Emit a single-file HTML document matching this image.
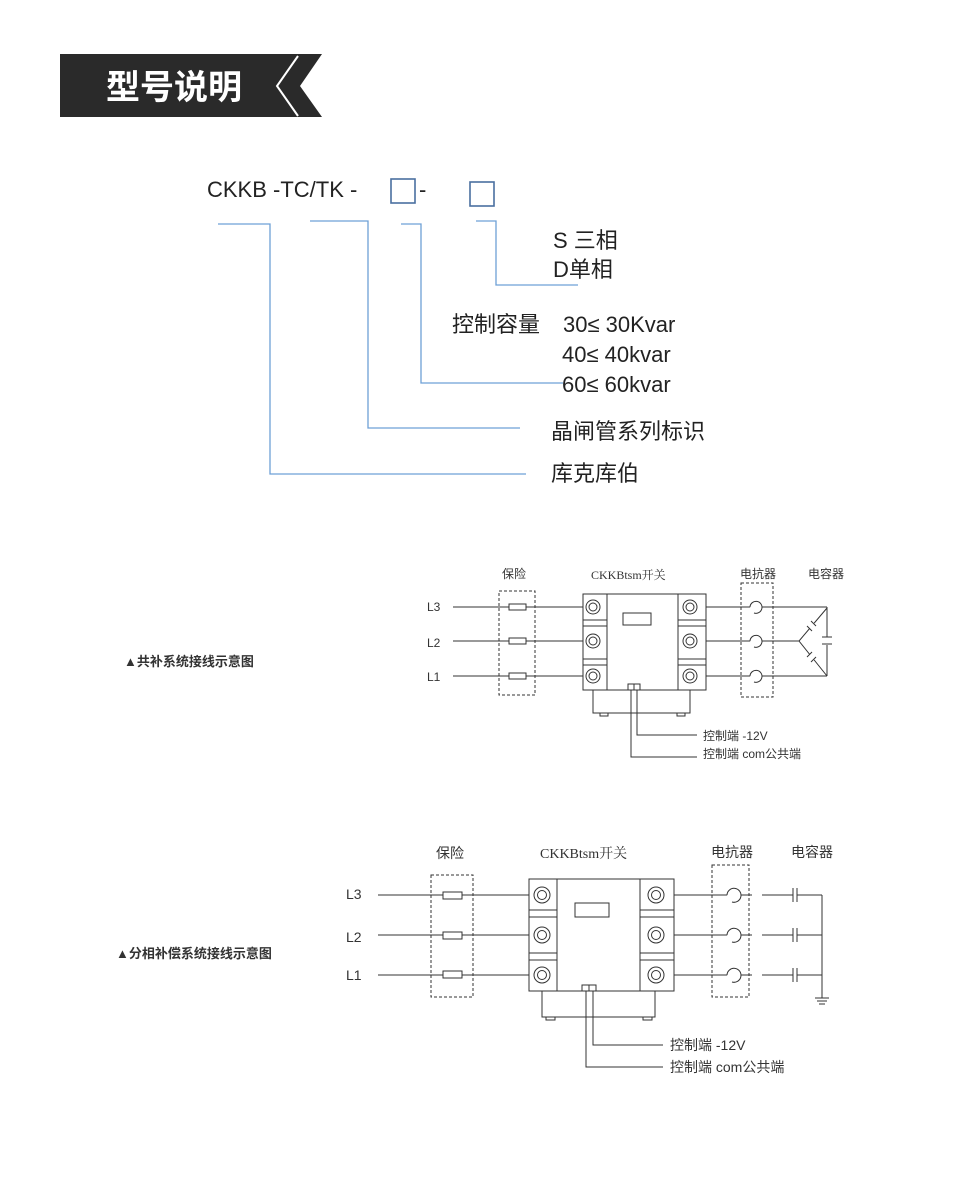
<!DOCTYPE html>
<html><head><meta charset="utf-8"><style>
html,body{margin:0;padding:0;background:#fff;}
svg{display:block}
.cn{font-family:"Liberation Sans","Noto Sans CJK SC",sans-serif;}
</style></head><body>
<svg width="977" height="1200" viewBox="0 0 977 1200" xmlns="http://www.w3.org/2000/svg" class="cn">
<!-- header -->
<polygon points="60,54 322,54 300,86 322,117 60,117" fill="#2a2a2a"/>
<polyline points="298,56 277,86 298,116" fill="none" stroke="#fff" stroke-width="2"/>
<text x="106" y="99" font-size="34" font-weight="bold" fill="#fff" font-family="'Noto Sans CJK SC',sans-serif">型号说明</text>

<!-- model code -->
<text x="207" y="197" font-size="22" fill="#222">CKKB -TC/TK -</text>
<rect x="391" y="179" width="24" height="24" fill="none" stroke="#4a6fa0" stroke-width="1.6"/>
<text x="419" y="197" font-size="22" fill="#222">-</text>
<rect x="470" y="182" width="24" height="24" fill="none" stroke="#4a6fa0" stroke-width="1.6"/>
<g fill="none" stroke="#6ea0d6" stroke-width="1.3">
<polyline points="218,224 270,224 270,474 526,474"/>
<polyline points="310,221 368,221 368,428 520,428"/>
<polyline points="401,224 421,224 421,383 563,383"/>
<polyline points="476,221 496,221 496,285 578,285"/>
</g>
<g font-size="22" fill="#222">
<text x="553" y="248">S 三相</text>
<text x="553" y="277">D单相</text>
<text x="452" y="332">控制容量</text>
<text x="563" y="332">30≤ 30Kvar</text>
<text x="562" y="362">40≤ 40kvar</text>
<text x="562" y="392">60≤ 60kvar</text>
<text x="551" y="439">晶闸管系列标识</text>
<text x="551" y="481">库克库伯</text>
</g>

<!-- diagram 1 -->
<text x="124" y="666" font-size="13" font-weight="bold" fill="#333">▲共补系统接线示意图</text>
<g font-size="12" fill="#333">
<text x="502" y="578">保险</text>
<text x="591" y="579" font-family="'Liberation Serif','Noto Serif CJK SC',serif">CKKBtsm开关</text>
<text x="740" y="578">电抗器</text>
<text x="808" y="578">电容器</text>
<text x="427" y="611">L3</text>
<text x="427" y="647">L2</text>
<text x="427" y="681">L1</text>
<text x="703" y="740">控制端 -12V</text>
<text x="703" y="758">控制端 com公共端</text>
</g>
<g fill="none" stroke="#333" stroke-width="1">
<line x1="453" y1="607" x2="585" y2="607"/>
<line x1="453" y1="641" x2="585" y2="641"/>
<line x1="453" y1="676" x2="585" y2="676"/>
<rect x="509" y="604" width="17" height="6" fill="#fff"/>
<rect x="509" y="638" width="17" height="6" fill="#fff"/>
<rect x="509" y="673" width="17" height="6" fill="#fff"/>
<rect x="499" y="591" width="36" height="104" stroke-dasharray="3,2"/>
<rect x="593" y="690" width="97" height="23"/>
<rect x="600" y="713" width="8" height="3"/><rect x="677" y="713" width="8" height="3"/>
<rect x="583" y="594" width="123" height="96" fill="#fff"/>
<line x1="607" y1="594" x2="607" y2="690"/><line x1="678" y1="594" x2="678" y2="690"/>
<line x1="583" y1="620" x2="607" y2="620"/><line x1="583" y1="626" x2="607" y2="626"/>
<line x1="583" y1="659" x2="607" y2="659"/><line x1="583" y1="665" x2="607" y2="665"/>
<line x1="678" y1="620" x2="706" y2="620"/><line x1="678" y1="626" x2="706" y2="626"/>
<line x1="678" y1="659" x2="706" y2="659"/><line x1="678" y1="665" x2="706" y2="665"/>
<rect x="623" y="613" width="28" height="12"/>
<rect x="628" y="684" width="6" height="6"/><rect x="634" y="684" width="6" height="6"/>
<polyline points="637,690 637,735 697,735"/>
<polyline points="631,690 631,757 697,757"/>
<line x1="706" y1="607" x2="827" y2="607"/>
<line x1="706" y1="641" x2="799" y2="641"/>
<line x1="706" y1="676" x2="827" y2="676"/>
<rect x="741" y="583" width="32" height="114" stroke-dasharray="3,2"/>
<line x1="827" y1="607" x2="827" y2="637"/><line x1="827" y1="645" x2="827" y2="676"/>
<line x1="822" y1="637" x2="832" y2="637"/><line x1="822" y1="644" x2="832" y2="644"/>
<polyline points="827,608 799,641 827,676"/>
</g>
<g fill="#fff" stroke="#333" stroke-width="1">
<circle cx="593" cy="607" r="7"/><circle cx="593" cy="641" r="7"/><circle cx="593" cy="676" r="7"/>
<circle cx="690" cy="607" r="7"/><circle cx="690" cy="641" r="7"/><circle cx="690" cy="676" r="7"/>
<circle cx="593" cy="607" r="4"/><circle cx="593" cy="641" r="4"/><circle cx="593" cy="676" r="4"/>
<circle cx="690" cy="607" r="4"/><circle cx="690" cy="641" r="4"/><circle cx="690" cy="676" r="4"/>
<path d="M750,607 A6,6 0 1,1 754,613"/><path d="M750,641 A6,6 0 1,1 754,647"/><path d="M750,676 A6,6 0 1,1 754,682"/>
</g>
<g stroke="#fff" stroke-width="4"><line x1="809" y1="628" x2="814" y2="623"/><line x1="809" y1="655" x2="814" y2="660"/></g>
<g stroke="#333" stroke-width="1"><line x1="807" y1="626" x2="812" y2="631"/><line x1="811" y1="621" x2="816" y2="626"/><line x1="807" y1="657" x2="812" y2="652"/><line x1="811" y1="662" x2="816" y2="657"/></g>

<!-- diagram 2 -->
<text x="116" y="958" font-size="13" font-weight="bold" fill="#333">▲分相补偿系统接线示意图</text>
<g font-size="14" fill="#333">
<text x="436" y="858">保险</text>
<text x="540" y="858" font-family="'Liberation Serif','Noto Serif CJK SC',serif">CKKBtsm开关</text>
<text x="711" y="857">电抗器</text>
<text x="791" y="857">电容器</text>
<text x="346" y="899">L3</text>
<text x="346" y="942">L2</text>
<text x="346" y="980">L1</text>
<text x="670" y="1050">控制端 -12V</text>
<text x="670" y="1072">控制端 com公共端</text>
</g>
<g fill="none" stroke="#333" stroke-width="1">
<line x1="378" y1="895" x2="532" y2="895"/>
<line x1="378" y1="935" x2="532" y2="935"/>
<line x1="378" y1="975" x2="532" y2="975"/>
<rect x="443" y="892" width="19" height="7" fill="#fff"/>
<rect x="443" y="932" width="19" height="7" fill="#fff"/>
<rect x="443" y="971" width="19" height="7" fill="#fff"/>
<rect x="431" y="875" width="42" height="122" stroke-dasharray="3,2"/>
<rect x="542" y="991" width="113" height="26"/>
<rect x="546" y="1017" width="9" height="3"/><rect x="643" y="1017" width="9" height="3"/>
<rect x="529" y="879" width="145" height="112" fill="#fff"/>
<line x1="557" y1="879" x2="557" y2="991"/><line x1="640" y1="879" x2="640" y2="991"/>
<line x1="529" y1="910" x2="557" y2="910"/><line x1="529" y1="917" x2="557" y2="917"/>
<line x1="529" y1="953" x2="557" y2="953"/><line x1="529" y1="960" x2="557" y2="960"/>
<line x1="640" y1="910" x2="674" y2="910"/><line x1="640" y1="917" x2="674" y2="917"/>
<line x1="640" y1="953" x2="674" y2="953"/><line x1="640" y1="960" x2="674" y2="960"/>
<rect x="575" y="903" width="34" height="14"/>
<rect x="582" y="985" width="7" height="6"/><rect x="589" y="985" width="7" height="6"/>
<polyline points="593,991 593,1045 663,1045"/>
<polyline points="586,991 586,1067 663,1067"/>
<line x1="674" y1="895" x2="752" y2="895"/><line x1="762" y1="895" x2="793" y2="895"/><line x1="797" y1="895" x2="822" y2="895"/>
<line x1="674" y1="935" x2="752" y2="935"/><line x1="762" y1="935" x2="793" y2="935"/><line x1="797" y1="935" x2="822" y2="935"/>
<line x1="674" y1="975" x2="752" y2="975"/><line x1="762" y1="975" x2="793" y2="975"/><line x1="797" y1="975" x2="822" y2="975"/>
<line x1="793" y1="888" x2="793" y2="902"/><line x1="797" y1="888" x2="797" y2="902"/>
<line x1="793" y1="928" x2="793" y2="942"/><line x1="797" y1="928" x2="797" y2="942"/>
<line x1="793" y1="968" x2="793" y2="982"/><line x1="797" y1="968" x2="797" y2="982"/>
<rect x="712" y="865" width="37" height="132" stroke-dasharray="3,2"/>
<line x1="822" y1="895" x2="822" y2="998"/>
<line x1="815" y1="998" x2="829" y2="998"/><line x1="817" y1="1001" x2="827" y2="1001"/><line x1="819" y1="1004" x2="825" y2="1004"/>
</g>
<g fill="#fff" stroke="#333" stroke-width="1">
<circle cx="542" cy="895" r="8"/><circle cx="542" cy="935" r="8"/><circle cx="542" cy="975" r="8"/>
<circle cx="656" cy="895" r="8"/><circle cx="656" cy="935" r="8"/><circle cx="656" cy="975" r="8"/>
<circle cx="542" cy="895" r="4.5"/><circle cx="542" cy="935" r="4.5"/><circle cx="542" cy="975" r="4.5"/>
<circle cx="656" cy="895" r="4.5"/><circle cx="656" cy="935" r="4.5"/><circle cx="656" cy="975" r="4.5"/>
<path d="M727,895 A7,7 0 1,1 732,902" /><path d="M727,935 A7,7 0 1,1 732,942"/><path d="M727,975 A7,7 0 1,1 732,982"/>
</g>
</svg>
</body></html>
